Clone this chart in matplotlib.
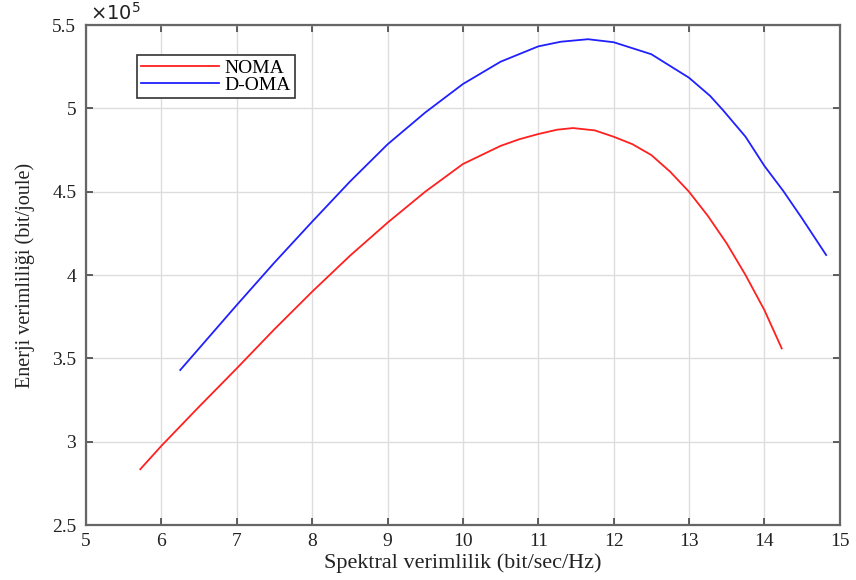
import matplotlib
matplotlib.use("Agg")
import matplotlib.pyplot as plt
from matplotlib.ticker import FuncFormatter

plt.rcParams['font.family'] = ['Liberation Serif', 'DejaVu Serif']

# values (energy in units of 1e5 bit/joule)
noma_x = [5.72, 6.0, 6.5, 7.0, 7.5, 8.0, 8.5, 9.0, 9.5, 10.0, 10.5, 10.75, 11.0, 11.25, 11.46,
          11.75, 12.0, 12.25, 12.5, 12.75, 13.0, 13.25, 13.5, 13.75, 14.0, 14.23]
noma_y = [2.835, 2.975, 3.21, 3.44, 3.675, 3.90, 4.115, 4.314, 4.50, 4.666, 4.775, 4.815, 4.846, 4.872, 4.882,
          4.868, 4.83, 4.785, 4.72, 4.62, 4.50, 4.355, 4.19, 4.0, 3.79, 3.56]

doma_x = [6.25, 6.5, 7.0, 7.5, 8.0, 8.5, 9.0, 9.5, 10.0, 10.5, 11.0, 11.3, 11.66,
          12.0, 12.5, 13.0, 13.28, 13.45, 13.75, 14.0, 14.25, 14.5, 14.82]
doma_y = [3.43, 3.56, 3.82, 4.075, 4.32, 4.56, 4.784, 4.975, 5.146, 5.28, 5.372, 5.40, 5.415,
          5.397, 5.325, 5.184, 5.075, 4.99, 4.83, 4.655, 4.505, 4.34, 4.12]

scale = 1e5
x_ticks = list(range(5, 16))
y_ticks = [2.5, 3, 3.5, 4, 4.5, 5, 5.5]

fig = plt.figure(figsize=(8.56, 5.8), dpi=100)
ax = fig.add_axes([0.1005, 0.0948, 0.8805, 0.862])

ax.plot(noma_x, [v * scale for v in noma_y], color='#ff2020', lw=1.3, label='NOMA')
ax.plot(doma_x, [v * scale for v in doma_y], color='#2020ff', lw=1.3, label='D-OMA')

ax.set_xlim(5, 15)
ax.set_ylim(2.5 * scale, 5.5 * scale)
ax.set_xticks(x_ticks)
ax.set_yticks([t * scale for t in y_ticks])
ax.yaxis.set_major_formatter(FuncFormatter(lambda v, p: f"{v / scale:g}"))

ax.grid(True, color='#dddddd', lw=1.0)
ax.set_axisbelow(True)
ax.tick_params(direction='in', top=True, right=True, length=5, width=1.2,
               color='#444444', labelsize=14, labelcolor='#222222')
ax.tick_params(axis='y', pad=7)
ax.tick_params(axis='x', pad=6)
for s in ax.spines.values():
    s.set_color('#666666')
    s.set_linewidth(1.6)

ax.text(0.005, 1.003, r'$\times10^5$', transform=ax.transAxes, fontsize=14,
        color='#222222', ha='left', va='bottom')

ax.set_xlabel('Spektral verimlilik (bit/sec/Hz)', fontsize=16, labelpad=2, color='#222222')
ax.set_ylabel('Enerji verimliliği (bit/joule)', fontsize=14.5, labelpad=12, color='#222222')

leg = ax.legend(loc='upper left', bbox_to_anchor=(0.068, 0.94), borderaxespad=0,
                fancybox=False, edgecolor='#333333', fontsize=14, handlelength=4.0,
                handletextpad=0.3, borderpad=0.2, labelspacing=0.0, framealpha=1)
leg.get_frame().set_linewidth(1.2)

fig.savefig('out.png', dpi=100)
